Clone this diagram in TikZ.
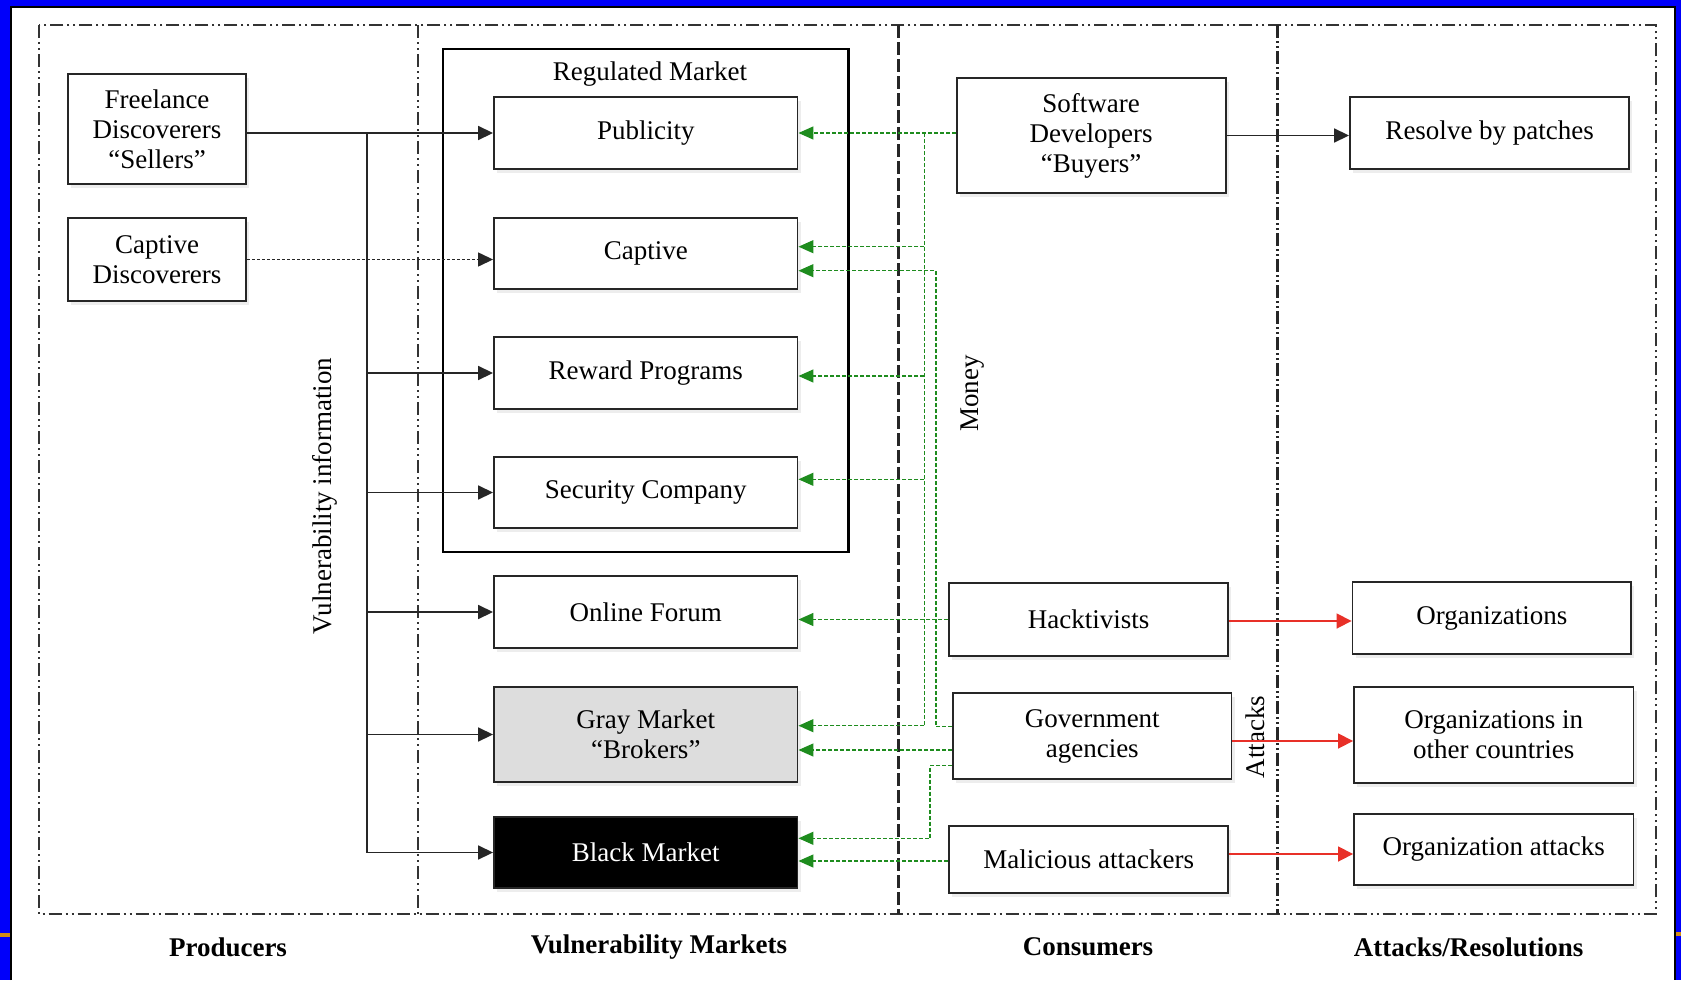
\documentclass[tikz,border=0pt]{standalone}
\usepackage{fontspec}
\setmainfont{Liberation Serif}
\usetikzlibrary{arrows.meta,shadows}

\definecolor{frameblue}{RGB}{0,0,250}
\definecolor{moneygreen}{RGB}{30,140,30}
\definecolor{attackred}{RGB}{232,48,40}
\definecolor{grayfill}{RGB}{221,221,221}
\definecolor{orangemark}{RGB}{210,140,20}

\tikzset{
  box/.style={draw=black!85, line width=1.9pt, fill=white, inner sep=0pt, align=center,
    font=\fontsize{27}{30}\selectfont,
    drop shadow={shadow xshift=3pt, shadow yshift=-4pt, opacity=0.14}},
  colframe/.style={draw=black!80, line width=2pt,
    dash pattern=on 13pt off 4pt on 2pt off 4pt on 2pt off 4pt},
  sepheavy/.style={draw=black!85, line width=2.6pt, dash pattern=on 13pt off 4pt},
  sepmixed/.style={draw=black!85, line width=2.4pt,
    dash pattern=on 13pt off 3pt on 2pt off 3pt on 2pt off 3pt},
  lbl/.style={inner sep=0pt, font=\fontsize{27}{30}\selectfont},
  blbl/.style={inner sep=0pt, font=\fontsize{27}{30}\selectfont\bfseries},
  info/.style={draw=black!85, line width=1.7pt},
  infoarrow/.style={info, -{Triangle[length=15pt,width=14pt]}},
  money/.style={draw=moneygreen, line width=1.4pt, dash pattern=on 4pt off 2pt},
  moneyarrow/.style={money, -{Triangle[length=15pt,width=13pt]}},
  attack/.style={draw=attackred, line width=1.7pt, -{Triangle[length=15pt,width=15pt]}}
}

\begin{document}
\begin{tikzpicture}[x=1pt,y=-1pt]
\useasboundingbox (0,0) rectangle (1681,980);
% page frame
\fill[white] (0,0) rectangle (1681,980);
\fill[frameblue] (0,0) rectangle (10,980);
\fill[frameblue] (0,0) rectangle (1681,6);
\fill[frameblue] (1676,0) rectangle (1681,980);
\draw[black, line width=2pt] (11,980) -- (11,7) -- (1674.5,7) -- (1674.5,980);
\fill[orangemark] (0,933) rectangle (10,937);
\fill[orangemark] (1676,932) rectangle (1681,936);

% column frames
\draw[colframe] (38.6,25) rectangle (1656,914);
\draw[colframe] (418,25) -- (418,914);
\draw[sepheavy] (898.6,25) -- (898.6,914);
\draw[sepmixed] (1277.4,25) -- (1277.4,914);

% regulated market container
\node[draw=black, line width=2.4pt, minimum width=405.6pt, minimum height=503pt, inner sep=0pt] (reg) at (645.8,300.5) {};
\node[lbl] (regl) at (650,74) {Regulated Market};

% producers
\node[box, minimum width=178pt, minimum height=110pt] (fl) at (157,129) {Freelance\\Discoverers\\“Sellers”};
\node[box, minimum width=178pt, minimum height=83pt] (cd) at (157,259.5) {Captive\\Discoverers};

% markets
\node[box, minimum width=303.5pt, minimum height=72pt] (pub) at (645.75,133) {Publicity};
\node[box, minimum width=303.5pt, minimum height=71pt] (cap) at (645.75,253.5) {Captive};
\node[box, minimum width=303.5pt, minimum height=72pt] (rew) at (645.75,373) {Reward Programs};
\node[box, minimum width=303.5pt, minimum height=71pt] (sec) at (645.75,492.5) {Security Company};
\node[box, minimum width=303.5pt, minimum height=72pt] (onl) at (645.75,612) {Online Forum};
\node[box, fill=grayfill, minimum width=303.5pt, minimum height=95pt] (gray) at (645.75,734.5) {Gray Market\\“Brokers”};
\node[box, fill=black, text=white, minimum width=303.5pt, minimum height=71pt] (blk) at (645.75,852.5) {Black Market};

% consumers
\node[box, minimum width=269.2pt, minimum height=115pt] (sd) at (1091.2,135.5) {Software\\Developers\\“Buyers”};
\node[box, minimum width=279.4pt, minimum height=73pt] (hack) at (1088.7,619.5) {Hacktivists};
\node[box, minimum width=278.5pt, minimum height=86pt] (gov) at (1092.25,736) {Government\\agencies};
\node[box, minimum width=279.4pt, minimum height=67pt] (mal) at (1088.7,859.5) {Malicious attackers};

% attacks / resolutions
\node[box, minimum width=279.4pt, minimum height=72pt] (res) at (1489.7,133) {Resolve by patches};
\node[box, minimum width=278.5pt, minimum height=72pt] (org) at (1491.75,618) {Organizations};
\node[box, minimum width=279.5pt, minimum height=96pt] (orgc) at (1493.75,735) {Organizations in\\other countries};
\node[box, minimum width=279.5pt, minimum height=71pt] (orga) at (1493.75,849.5) {Organization attacks};

% rotated labels
\node[lbl, rotate=90] (vinfo) at (325,496) {Vulnerability information};
\node[lbl, rotate=90] (money) at (973,393.5) {Money};
\node[lbl, rotate=90] (attk) at (1255,737) {Attacks};

% column titles
\node[blbl] (t1) at (228,947) {Producers};
\node[blbl] (t2) at (659,947) {Vulnerability Markets};
\node[blbl] (t3) at (1088,947) {Consumers};
\node[blbl] (t4) at (1468.7,947) {Attacks/Resolutions};

% vulnerability information flows
\coordinate (vtop) at (367,133);
\coordinate (vbot) at (367,852.5);
\draw[infoarrow] (fl.east |- pub.west) -- (pub.west);
\draw[info] (vtop) -- (vbot);
\draw[infoarrow] (vtop |- rew.west) -- (rew.west);
\draw[infoarrow] (vtop |- sec.west) -- (sec.west);
\draw[infoarrow] (vtop |- onl.west) -- (onl.west);
\draw[infoarrow] (vtop |- gray.west) -- (gray.west);
\draw[infoarrow] (vbot) -- (blk.west);
\draw[infoarrow, line width=1.4pt, dash pattern=on 3pt off 2pt] (cd.east) -- (cd.east -| cap.west);

% resolution
\draw[infoarrow] (sd.east) -- (sd.east -| res.west);

% money flows
\coordinate (m1top) at (924.3,133);
\coordinate (m1bot) at (924.3,725.7);
\coordinate (capu) at (924.3,246.7);
\coordinate (rewm) at (924.3,376);
\coordinate (secm) at (924.3,479.3);
\draw[moneyarrow] (pub.east -| sd.west) -- (pub.east);
\draw[money] (m1top) -- (m1bot);
\draw[moneyarrow] (capu) -- (capu -| cap.east);
\draw[moneyarrow] (rewm) -- (rewm -| rew.east);
\draw[moneyarrow] (secm) -- (secm -| sec.east);
\draw[moneyarrow] (m1bot) -- (m1bot -| gray.east);

\coordinate (g2b) at (936,726.7);
\coordinate (g2t) at (936,270.7);
\draw[moneyarrow] (g2b -| gov.west) -- (g2b) -- (g2t) -- (g2t -| cap.east);
\coordinate (g3) at (953,750);
\draw[moneyarrow] (g3 -| gov.west) -- (g3 -| gray.east);
\coordinate (g4a) at (930,765.7);
\coordinate (g4b) at (930,838.3);
\draw[moneyarrow] (g4a -| gov.west) -- (g4a) -- (g4b) -- (g4b -| blk.east);
\coordinate (g5) at (949,861);
\draw[moneyarrow] (g5 -| mal.west) -- (g5 -| blk.east);
\draw[moneyarrow] (hack.west) -- (hack.west -| onl.east);

% attacks
\coordinate (a1) at (1230,621);
\coordinate (a2) at (1232,741);
\coordinate (a3) at (1230,854);
\draw[attack] (a1 -| hack.east) -- (a1 -| org.west);
\draw[attack] (a2 -| gov.east) -- (a2 -| orgc.west);
\draw[attack] (a3 -| mal.east) -- (a3 -| orga.west);
\end{tikzpicture}
\end{document}
